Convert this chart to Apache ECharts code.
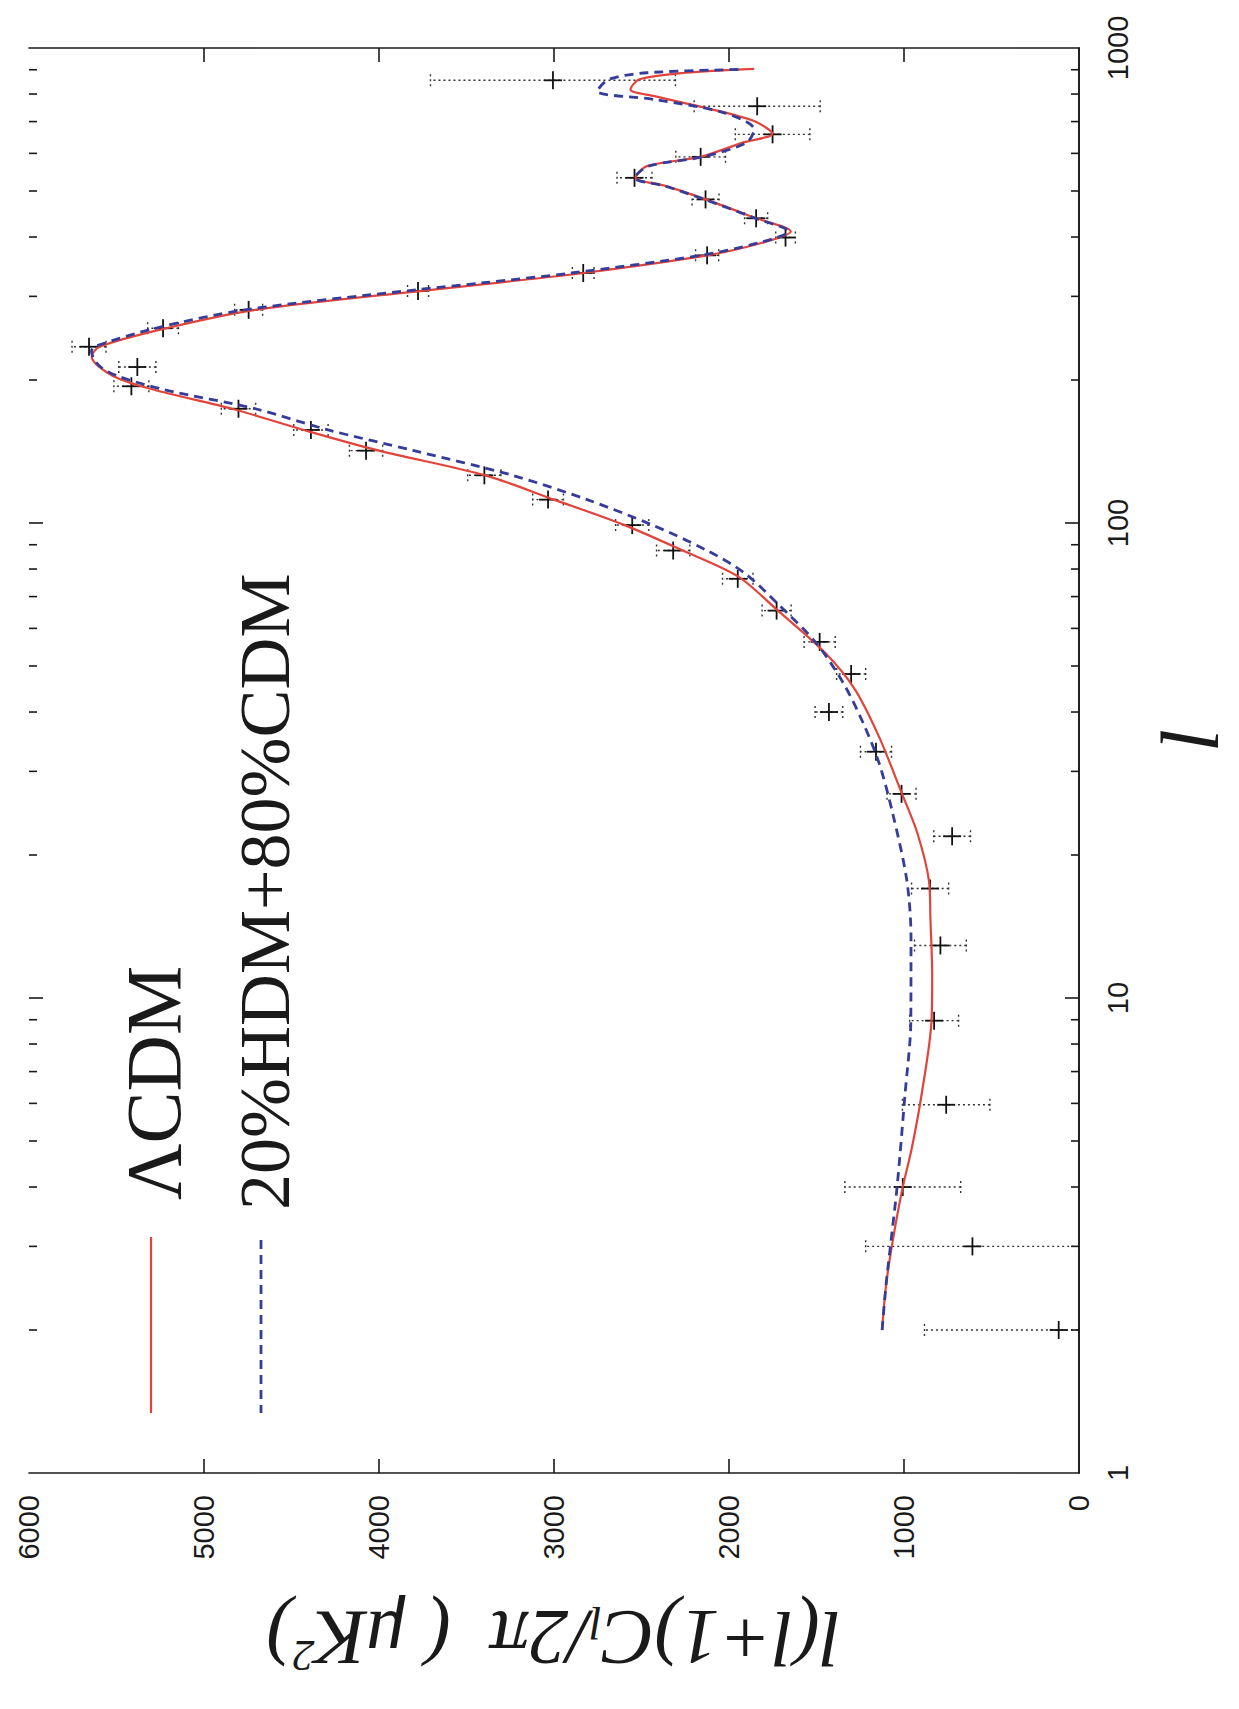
<!DOCTYPE html>
<html>
<head>
<meta charset="utf-8">
<script src="https://cdn.jsdelivr.net/npm/echarts@6/dist/echarts.min.js"></script>
<style>
html,body{margin:0;padding:0;background:#ffffff;}
#c{width:1239px;height:1709px;}
</style>
</head>
<body>
<div id="c"></div>
<script>
// ---- data (multipole l, power l(l+1)C_l/2pi in uK^2) ----
const lcdmL = [2.0,2.48,3.04,3.94,4.84,6.28,8.93,11.15,14.7,17.6,22.2,27.0,35.5,44.6,53.3,65.7,77.2,87.7,99.1,112,126,142,157,174,191,204,224,235,257,281,310,320,336,366,389,411,438,480,512,533,564,590,632,660,702,749,792,818,859,887,904];
const lcdmV = [1125,1103,1067,1011,955,899,843,839,849,857,923,1013,1143,1280,1451,1727,1949,2270,2600,3000,3393,4000,4430,4840,5290,5520,5642,5597,5216,4706,3689,3342,2832,2124,1811,1647,1844,2133,2359,2534,2469,2163,1923,1752,1857,2140,2425,2563,2513,2250,1856];

const hdmL = [2.0,2.48,3.04,4.02,6.28,8.93,13.4,17.7,24.5,31.2,37.9,46.1,55.9,66.8,78.5,87.7,99.1,112,126,142,157,174,191,204,214,230,235,257,281,310,320,336,366,389,411,438,480,512,533,564,590,632,674,731,779,811,859,887,901];
const hdmV = [1125,1103,1076,1039,994,961,960,984,1065,1142,1233,1348,1502,1707,1912,2130,2440,2811,3237,3800,4290,4707,5232,5494,5597,5643,5628,5278,4768,3777,3420,2900,2160,1830,1660,1850,2140,2365,2540,2460,2150,1900,1856,2031,2425,2753,2687,2468,1942];

const obsL   = [855,754,658,590,533,480,438,399,366,336,308,281,257,235,213,194,174,157,142,126,112,99,87.5,76.3,65.4,56.2,48.1,40.0,33.0,26.9,21.9,17.0,12.9,8.96,5.96,4.0,3.0,2.0];
const obsV   = [3006,1839,1751,2162,2540,2134,1845,1677,2125,2833,3777,4745,5234,5657,5381,5415,4803,4389,4074,3398,3034,2553,2319,1950,1728,1482,1302,1429,1160,1014,725,851,792,828,759,1007,609,116];
const obsErr = [700,360,213,142,100,77,66,56,66,62,60,80,88,97,106,100,98,98,95,95,88,95,95,87,83,89,83,79,89,83,105,106,148,140,250,331,610,767];

const valueMin = 0, valueMax = 6000, valueStep = 1000;
const ellMin = 1, ellMax = 1000;
const minorEll = [2,3,4,5,6,7,8,9,20,30,40,50,60,70,80,90,200,300,400,500,600,700,800,900];
const majorEll = [10,100];
const valueTicks = [1000,2000,3000,4000,5000];

const legendNames = ['\u039BCDM', '20%HDM+80%CDM'];

// ---- styling ----
const RED = '#e2443a';
const BLUE = '#363c9a';
const INK = '#1a1a1a';
const SERIF = "'Liberation Serif','Times New Roman',serif";
const SANS = "'Liberation Sans',Arial,Helvetica,sans-serif";

const chart = echarts.init(document.getElementById('c'), null, {renderer: 'svg'});

const frameLine = {show: true, lineStyle: {color: INK, width: 1.6}};
const plainNum = v => String(v);

// inward tick marks on both vertical frame sides (position along the log axis via api.coord)
function ellTickSeries(ells, len) {
  return {
    type: 'custom', silent: true, xAxisIndex: 0, yAxisIndex: 0, z: 5, clip: false,
    data: ells.map(l => [3000, l]),
    renderItem: function (params, api) {
      const cs = params.coordSys;
      const y = api.coord([api.value(0), api.value(1)])[1];
      const xl = cs.x, xr = cs.x + cs.width;
      return {type: 'group', children: [
        {type: 'line', shape: {x1: xl, y1: y, x2: xl + len, y2: y}, style: {stroke: INK, lineWidth: 1.6}},
        {type: 'line', shape: {x1: xr - len, y1: y, x2: xr, y2: y}, style: {stroke: INK, lineWidth: 1.6}}
      ]};
    }
  };
}
// inward tick marks on both horizontal frame sides (position along the value axis via api.coord)
function valueTickSeries(len) {
  return {
    type: 'custom', silent: true, xAxisIndex: 0, yAxisIndex: 0, z: 5, clip: false,
    data: valueTicks.map(v => [v, 30]),
    renderItem: function (params, api) {
      const cs = params.coordSys;
      const x = api.coord([api.value(0), api.value(1)])[0];
      const yt = cs.y, yb = cs.y + cs.height;
      return {type: 'group', children: [
        {type: 'line', shape: {x1: x, y1: yt, x2: x, y2: yt + len}, style: {stroke: INK, lineWidth: 1.6}},
        {type: 'line', shape: {x1: x, y1: yb - len, x2: x, y2: yb}, style: {stroke: INK, lineWidth: 1.6}}
      ]};
    }
  };
}

const option = {
  animation: false,
  backgroundColor: '#ffffff',
  grid: {left: 29, right: 157, top: 48, bottom: 236},
  xAxis: [
    {
      type: 'value', min: valueMin, max: valueMax, interval: valueStep, inverse: true, position: 'bottom',
      axisLine: frameLine, axisTick: {show: false}, splitLine: {show: false},
      axisLabel: {rotate: 90, fontSize: 29, fontFamily: SANS, color: INK, margin: 22, formatter: plainNum},
      name: '{i|l(l+1)C}{sub|l}{i|/2\u03C0  ( \u03BCK}{sup|2}{i|)}',
      nameLocation: 'middle', nameRotate: 180, nameGap: 126,
      nameTextStyle: {
        color: INK, fontFamily: SERIF, fontStyle: 'italic', fontSize: 78,
        rich: {
          i: {fontFamily: SERIF, fontStyle: 'italic', fontSize: 78, lineHeight: 78, color: INK},
          sub: {fontFamily: SERIF, fontStyle: 'italic', fontSize: 46, lineHeight: 46, verticalAlign: 'bottom', padding: [52, 0, 0, 0], color: INK},
          sup: {fontFamily: SERIF, fontStyle: 'italic', fontSize: 44, lineHeight: 44, verticalAlign: 'top', color: INK}
        }
      }
    },
    {
      type: 'value', min: valueMin, max: valueMax, interval: valueStep, inverse: true, position: 'top',
      axisLine: frameLine, axisTick: {show: false}, splitLine: {show: false}, axisLabel: {show: false}
    }
  ],
  yAxis: [
    {
      type: 'log', logBase: 10, min: ellMin, max: ellMax, position: 'right',
      axisLine: frameLine, axisTick: {show: false}, splitLine: {show: false}, minorTick: {show: false},
      axisLabel: {rotate: 90, fontSize: 29, fontFamily: SANS, color: INK, margin: 24, formatter: plainNum},
      name: 'l', nameLocation: 'middle', nameRotate: 90, nameGap: 70,
      nameTextStyle: {color: INK, fontFamily: SERIF, fontStyle: 'italic', fontSize: 82, padding: [0, 0, 0, 40]}
    },
    {
      type: 'log', logBase: 10, min: ellMin, max: ellMax, position: 'left',
      axisLine: frameLine, axisTick: {show: false}, splitLine: {show: false}, axisLabel: {show: false}
    }
  ],
  series: [
    ellTickSeries(minorEll, 8),
    ellTickSeries(majorEll, 14),
    valueTickSeries(14),
    {
      type: 'line', name: legendNames[0], xAxisIndex: 0, yAxisIndex: 0,
      data: lcdmL.map((l, i) => [lcdmV[i], l]),
      showSymbol: false, smooth: 0.3, silent: true,
      lineStyle: {color: RED, width: 2.2}
    },
    {
      type: 'line', name: legendNames[1], xAxisIndex: 0, yAxisIndex: 0,
      data: hdmL.map((l, i) => [hdmV[i], l]),
      showSymbol: false, smooth: 0.3, silent: true,
      lineStyle: {color: BLUE, width: 2.8, type: [9, 6]}
    },
    {
      type: 'custom', name: 'data', clip: true, silent: true, xAxisIndex: 0, yAxisIndex: 0,
      data: obsL.map((l, i) => [obsV[i], l, obsErr[i]]),
      renderItem: function (params, api) {
        const v = api.value(0), l = api.value(1), e = api.value(2);
        const c = api.coord([v, l]);
        const a = api.coord([v - e, l]);
        const b = api.coord([v + e, l]);
        const dot = () => ({stroke: '#333', lineWidth: 1.4, lineDash: [2, 3], fill: null});
        const solid = () => ({stroke: '#111', lineWidth: 1.8, fill: null});
        return {type: 'group', children: [
          {type: 'line', shape: {x1: a[0], y1: c[1], x2: b[0], y2: c[1]}, style: dot()},
          {type: 'line', shape: {x1: a[0], y1: c[1] - 6, x2: a[0], y2: c[1] + 6}, style: dot()},
          {type: 'line', shape: {x1: b[0], y1: c[1] - 6, x2: b[0], y2: c[1] + 6}, style: dot()},
          {type: 'line', shape: {x1: c[0] - 9, y1: c[1], x2: c[0] + 9, y2: c[1]}, style: solid()},
          {type: 'line', shape: {x1: c[0], y1: c[1] - 9, x2: c[0], y2: c[1] + 9}, style: solid()}
        ]};
      }
    }
  ],
  graphic: [
    {type: 'line', shape: {x1: 151, y1: 1237, x2: 151, y2: 1413}, style: {stroke: RED, lineWidth: 2.2}},
    {type: 'line', shape: {x1: 261, y1: 1240, x2: 261, y2: 1413}, style: {stroke: BLUE, lineWidth: 2.8, lineDash: [9, 6]}},
    {type: 'text', x: 153, y: 1200, rotation: Math.PI / 2,
     style: {text: legendNames[0], fontFamily: SERIF, fontSize: 78, fill: INK, align: 'left', verticalAlign: 'middle', textAlign: 'left', textVerticalAlign: 'middle'}},
    {type: 'text', x: 265, y: 1210, rotation: Math.PI / 2,
     style: {text: legendNames[1], fontFamily: SERIF, fontSize: 72, fill: INK, align: 'left', verticalAlign: 'middle', textAlign: 'left', textVerticalAlign: 'middle'}}
  ]
};
chart.setOption(option);
</script>
</body>
</html>
